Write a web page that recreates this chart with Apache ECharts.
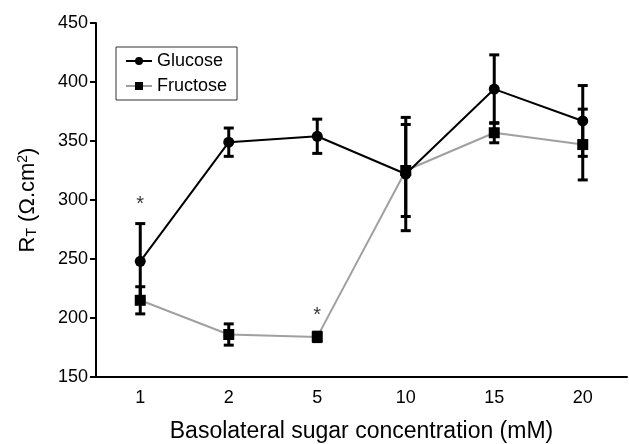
<!DOCTYPE html>
<html>
<head>
<meta charset="utf-8">
<script src="https://cdn.jsdelivr.net/npm/echarts@6/dist/echarts.min.js"></script>
<style>
html,body{margin:0;padding:0;background:#fff;}
#c{width:629px;height:444px;}
</style>
</head>
<body>
<div id="c"></div>
<script>
var categories = ['1', '2', '5', '10', '15', '20'];
var glucoseMean = [248, 349, 354, 322, 394, 367];
var glucoseErr  = [32, 12, 14.5, 48, 29, 30];
var fructoseMean = [215, 186, 184, 325, 357, 347];
var fructoseErr  = [11.5, 9, 4, 39, 8.5, 30];
var yTicks = [150, 200, 250, 300, 350, 400, 450];
var starCats = ['1', '5'];
var starValues = [296, 202];

var FONT = 'Liberation Sans, Arial, sans-serif';

function errData(mean, err) {
  return mean.map(function (m, i) { return [i, m - err[i], m + err[i]]; });
}

function errRender(params, api) {
  var x = api.value(0);
  var lo = api.coord([x, api.value(1)]);
  var hi = api.coord([x, api.value(2)]);
  var cw = 5;
  var st = { stroke: '#000', lineWidth: 3 };
  return {
    type: 'group',
    children: [
      { type: 'line', shape: { x1: lo[0], y1: lo[1], x2: hi[0], y2: hi[1] }, style: st },
      { type: 'line', shape: { x1: lo[0] - cw, y1: lo[1], x2: lo[0] + cw, y2: lo[1] }, style: st },
      { type: 'line', shape: { x1: hi[0] - cw, y1: hi[1], x2: hi[0] + cw, y2: hi[1] }, style: st }
    ]
  };
}

var chart = echarts.init(document.getElementById('c'), null, { renderer: 'canvas' });
chart.setOption({
  animation: false,
  backgroundColor: '#fff',
  grid: { left: 96, right: 2, top: 23, bottom: 67, containLabel: false, outerBoundsMode: 'none' },
  legend: {
    orient: 'vertical',
    left: 116, top: 47,
    data: ['Glucose', 'Fructose'],
    borderColor: '#333', borderWidth: 1,
    padding: [5, 10, 5, 9],
    itemGap: 7, itemWidth: 26, itemHeight: 10,
    textStyle: { fontFamily: FONT, fontSize: 18, color: '#000' }
  },
  xAxis: {
    type: 'category',
    data: categories,
    boundaryGap: true,
    axisLine: { lineStyle: { color: '#000', width: 2 } },
    axisTick: { alignWithLabel: true, length: 6, lineStyle: { color: '#000', width: 2 } },
    axisLabel: { color: '#000', fontFamily: FONT, fontSize: 18, margin: 12 },
    name: 'Basolateral sugar concentration (mM)',
    nameLocation: 'middle',
    nameGap: 43,
    nameTextStyle: { color: '#000', fontFamily: FONT, fontSize: 23 }
  },
  yAxis: {
    type: 'value',
    min: yTicks[0], max: yTicks[yTicks.length - 1], interval: 50,
    splitLine: { show: false },
    axisLine: { show: true, lineStyle: { color: '#000', width: 2 } },
    axisTick: { show: true, length: 6, lineStyle: { color: '#000', width: 2 } },
    axisLabel: { color: '#000', fontFamily: FONT, fontSize: 18, margin: 8 },
    name: 'R{sub|T} (Ω.cm{sup|2})',
    nameLocation: 'middle',
    nameRotate: 90,
    nameGap: 57,
    nameTextStyle: {
      color: '#000', fontFamily: FONT, fontSize: 22,
      rich: {
        sub: { fontSize: 14, fontFamily: FONT, color: '#000', verticalAlign: 'bottom', padding: [9, 0, 0, 0] },
        sup: { fontSize: 14, fontFamily: FONT, color: '#000', verticalAlign: 'top', padding: [0, 0, 9, 0] }
      }
    }
  },
  series: [
    {
      name: 'Fructose', type: 'line', data: fructoseMean, z: 3,
      symbol: 'rect', symbolSize: 11,
      lineStyle: { color: '#a0a0a0', width: 2 },
      itemStyle: { color: '#000' }
    },
    {
      type: 'custom', data: errData(fructoseMean, fructoseErr), renderItem: errRender, z: 4, silent: true
    },
    {
      name: 'Glucose', type: 'line', data: glucoseMean, z: 5,
      symbol: 'circle', symbolSize: 11,
      lineStyle: { color: '#000', width: 2 },
      itemStyle: { color: '#000' }
    },
    {
      type: 'custom', data: errData(glucoseMean, glucoseErr), renderItem: errRender, z: 6, silent: true
    },
    {
      type: 'scatter', symbolSize: 0, z: 7,
      data: starCats.map(function (c, i) { return [c, starValues[i]]; }),
      label: { show: true, formatter: '*', position: 'inside', color: '#000', fontFamily: FONT, fontSize: 20 }
    }
  ]
});
</script>
</body>
</html>
